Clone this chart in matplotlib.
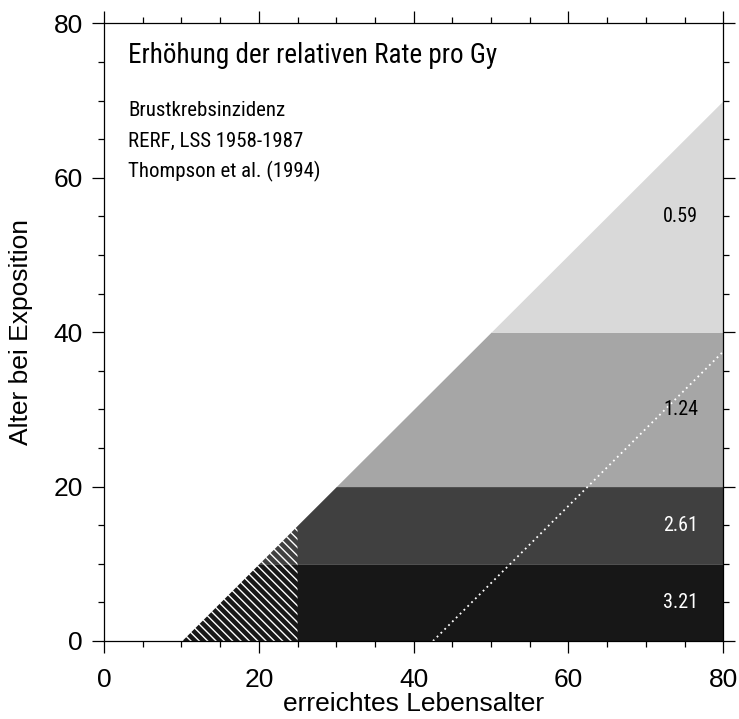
import matplotlib
matplotlib.use("Agg")
import matplotlib.pyplot as plt
from matplotlib.ticker import MultipleLocator

plt.rcParams['font.family'] = ['Liberation Sans', 'DejaVu Sans']
plt.rcParams['hatch.linewidth'] = 1.0

# age-at-exposure bands (y) and excess relative risk per Gy
band_lo = [0, 10, 20, 40]
band_hi = [10, 20, 40, 70]
err_values = ["3.21", "2.61", "1.24", "0.59"]
band_colors = ["#171717", "#404040", "#a6a6a6", "#d9d9d9"]
label_colors = ["white", "white", "black", "black"]
label_y = [5, 15, 30, 55]
label_x = 74.5

latency = 10          # attained age = age at exposure + latency on the diagonal
max_age = 80
hatch_x = [10, 25]    # uncertain region
hatch_y = [0, 15]
dotted_x = [42.5, 80]
dotted_y = [0, 37.5]

narrow = ['Roboto Condensed', 'Archivo Narrow', 'DejaVu Sans']

fig = plt.figure(figsize=(7.39, 7.19), dpi=100)
ax = fig.add_axes([0.1407, 0.1085, 0.8381, 0.8591])

for lo, hi, c in zip(band_lo, band_hi, band_colors):
    ax.fill_betweenx([lo, hi], [lo + latency, hi + latency], max_age,
                     color=c, linewidth=0)

ax.fill_betweenx(hatch_y, hatch_x, hatch_x[1], facecolor='none',
                 edgecolor='white', hatch='\\\\\\\\', linewidth=0)

ax.plot(dotted_x, dotted_y, color='white', linestyle=(0, (1, 2)), linewidth=1.3)

for v, y, c in zip(err_values, label_y, label_colors):
    ax.text(label_x, y, v, color=c, ha='center', va='center',
            fontsize=14.5, family=narrow)

ax.text(3.1, 74.8, "Erhöhung der relativen Rate pro Gy", fontsize=19.5,
        family=narrow, va='baseline')
ax.text(3.1, 68.0, "Brustkrebsinzidenz", fontsize=15, family=narrow, va='baseline')
ax.text(3.1, 64.0, "RERF, LSS 1958-1987", fontsize=15, family=narrow, va='baseline')
ax.text(3.1, 60.0, "Thompson et al. (1994)", fontsize=15, family=narrow, va='baseline')

ax.set_xlim(0, 80)
ax.set_ylim(0, 80)
ax.xaxis.set_major_locator(MultipleLocator(20))
ax.xaxis.set_minor_locator(MultipleLocator(5))
ax.yaxis.set_major_locator(MultipleLocator(20))
ax.yaxis.set_minor_locator(MultipleLocator(5))
ax.tick_params(which='both', direction='out', top=True, right=True, width=0.9)
ax.tick_params(which='major', length=8.6)
ax.tick_params(which='minor', length=4.3)
ax.tick_params(axis='x', labelsize=19, pad=10.5)
ax.tick_params(axis='y', labelsize=19, pad=6.5)
for s in ax.spines.values():
    s.set_linewidth(0.9)

ax.set_xlabel("erreichtes Lebensalter", fontsize=19)
ax.set_ylabel("Alter bei Exposition", fontsize=19)
ax.xaxis.set_label_coords(0.5, -0.082)
ax.yaxis.set_label_coords(-0.1146, 0.5)

fig.savefig("out.png", dpi=100)
